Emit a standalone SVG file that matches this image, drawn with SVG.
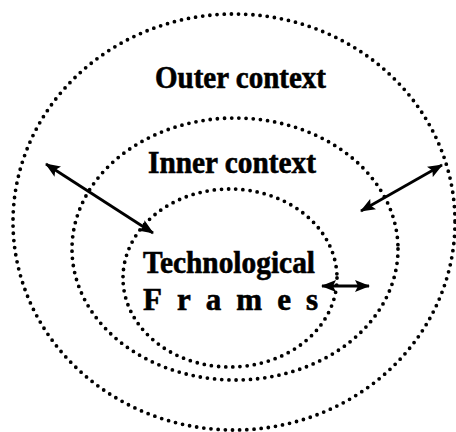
<svg xmlns="http://www.w3.org/2000/svg" width="456" height="432" viewBox="0 0 456 432">
  <style>
    .ring { fill: none; stroke: #000; stroke-width: 3.8; stroke-linecap: round; stroke-dasharray: 0 7.2; }
    .label { font-family: "Liberation Serif", "Times New Roman", serif; font-weight: bold; font-size: 31px; fill: #000; stroke: #000; stroke-width: 0.6; }
    .link { stroke: #000; stroke-width: 2.8; fill: none; marker-start: url(#head); marker-end: url(#head); }
  </style>
  <defs>
    <marker id="head" viewBox="0 0 15 12" refX="14" refY="6" markerWidth="15" markerHeight="12" markerUnits="userSpaceOnUse" orient="auto-start-reverse">
      <path d="M0,0 L15,6 L0,12 L3,6 Z" fill="#000"/>
    </marker>
  </defs>
  <rect width="456" height="432" fill="#fff"/>

  <g id="outer-context">
    <ellipse class="ring" cx="234" cy="222" rx="221" ry="208"/>
    <text class="label" x="155" y="88" textLength="171" lengthAdjust="spacingAndGlyphs">Outer context</text>
  </g>

  <g id="inner-context">
    <ellipse class="ring" cx="235" cy="249" rx="163" ry="131"/>
    <text class="label" x="148" y="173" textLength="168" lengthAdjust="spacingAndGlyphs">Inner context</text>
  </g>

  <g id="technological-frames">
    <ellipse class="ring" cx="230" cy="278" rx="107" ry="89"/>
    <text class="label" x="143" y="273" textLength="172" lengthAdjust="spacingAndGlyphs">Technological</text>
    <text class="label" x="143" y="310" textLength="175" lengthAdjust="spacing">Frames</text>
  </g>

  <g id="connectors">
    <line class="link" x1="46" y1="164" x2="153" y2="233"/>
    <line class="link" x1="361" y1="211" x2="442" y2="165"/>
    <line class="link" x1="322" y1="286" x2="369" y2="286"/>
  </g>
</svg>
